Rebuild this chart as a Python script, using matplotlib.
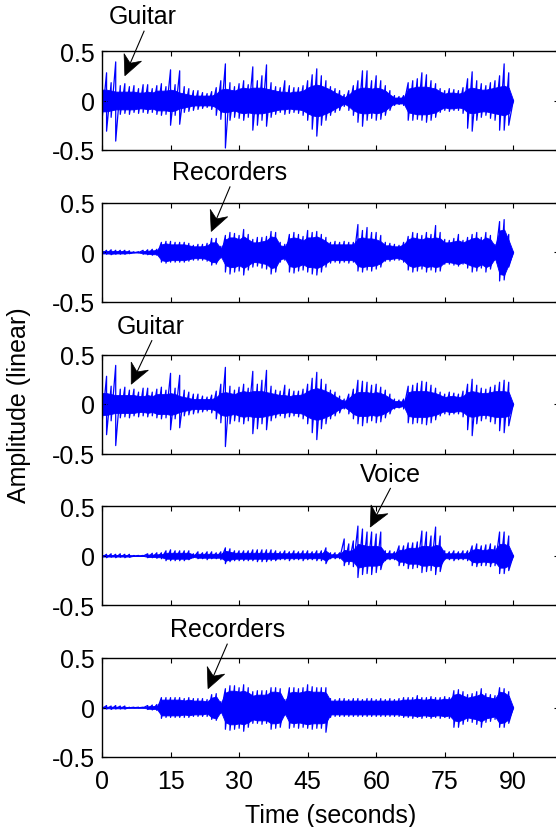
import matplotlib
matplotlib.use("Agg")
import matplotlib.pyplot as plt
from matplotlib.patches import Polygon
import numpy as np

plt.rcParams["font.family"] = ["Liberation Sans", "DejaVu Sans"]
plt.rcParams["axes.unicode_minus"] = False

# one sample per second, 0..90 s
seconds = np.arange(91)

# mixture: positive peak, negative peak (magnitude) and dense body per second
mix_up = [.2, .28, .18, .39, .15, .17, .14, .15, .12, .16,
          .16, .12, .15, .17, .14, .31, .16, .3, .14, .12,
          .1, .1, .08, .07, .09, .13, .2, .37, .18, .14,
          .17, .2, .16, .34, .2, .25, .36, .18, .14, .13,
          .2, .15, .13, .13, .15, .2, .26, .32, .25, .2,
          .14, .12, .1, .06, .1, .15, .2, .3, .3, .2,
          .25, .2, .15, .1, .05, .04, .05, .18, .2, .22,
          .28, .26, .2, .17, .12, .1, .12, .11, .1, .13,
          .22, .29, .2, .17, .15, .18, .2, .25, .37, .28,
          0]
mix_dn = [.2, .31, .17, .41, .14, .13, .14, .12, .13, .12,
          .13, .12, .14, .15, .14, .25, .15, .24, .12, .11,
          .1, .09, .08, .07, .09, .15, .19, .48, .2, .17,
          .18, .2, .17, .3, .25, .2, .26, .17, .14, .12,
          .14, .13, .12, .13, .15, .2, .29, .36, .25, .2,
          .15, .12, .1, .06, .1, .15, .22, .26, .2, .18,
          .2, .19, .15, .1, .05, .04, .05, .2, .2, .19,
          .2, .22, .2, .17, .12, .1, .11, .1, .1, .13,
          .28, .31, .2, .17, .15, .18, .2, .3, .3, .25,
          0]
mix_band = [.11, .11, .1, .09, .09, .09, .09, .09, .08, .08,
            .09, .08, .1, .1, .1, .11, .1, .08, .07, .06,
            .05, .05, .05, .05, .05, .07, .11, .12, .11, .1,
            .12, .13, .12, .13, .13, .13, .12, .11, .1, .09,
            .09, .08, .09, .09, .1, .13, .15, .16, .15, .13,
            .11, .08, .06, .03, .06, .1, .12, .13, .13, .12,
            .13, .12, .1, .06, .03, .03, .03, .12, .13, .14,
            .14, .14, .13, .12, .09, .07, .08, .08, .07, .08,
            .12, .13, .12, .11, .11, .12, .13, .14, .15, .13,
            0]

# recorders, first estimate
rec1_up = [.02, .02, .025, .02, .02, .02, .015, .005, .005, .02,
           .025, .03, .03, .1, .11, .11, .1, .1, .1, .09,
           .07, .08, .08, .09, .14, .14, .06, .17, .2, .19,
           .17, .23, .18, .13, .15, .15, .16, .21, .2, .1,
           .08, .18, .2, .18, .16, .22, .2, .21, .18, .15,
           .1, .11, .1, .11, .1, .1, .28, .22, .25, .2,
           .2, .17, .1, .09, .08, .07, .1, .16, .2, .19,
           .17, .2, .18, .27, .2, .13, .12, .14, .18, .12,
           .15, .18, .2, .15, .2, .17, .08, .31, .33, .18,
           0]
rec1_dn = [.02, .02, .025, .02, .02, .02, .015, .005, .005, .02,
           .025, .03, .03, .1, .11, .1, .1, .1, .1, .09,
           .08, .08, .08, .09, .13, .12, .06, .2, .22, .2,
           .19, .23, .18, .15, .14, .16, .17, .22, .2, .1,
           .08, .2, .21, .19, .18, .2, .22, .23, .2, .15,
           .11, .1, .11, .1, .11, .1, .19, .2, .18, .19,
           .17, .15, .09, .09, .08, .08, .1, .18, .2, .19,
           .17, .2, .18, .2, .19, .12, .12, .13, .14, .12,
           .16, .2, .19, .16, .2, .17, .08, .29, .28, .15,
           0]
rec1_band = [.012, .012, .015, .012, .012, .012, .008, .003, .003, .012,
             .015, .02, .02, .08, .09, .08, .08, .08, .08, .07,
             .06, .06, .06, .07, .1, .1, .04, .13, .15, .15,
             .13, .16, .13, .1, .1, .11, .12, .16, .15, .07,
             .06, .14, .15, .14, .12, .15, .15, .16, .14, .11,
             .08, .08, .08, .08, .08, .08, .14, .15, .14, .14,
             .13, .11, .07, .07, .06, .06, .08, .13, .15, .14,
             .13, .15, .14, .15, .14, .1, .1, .11, .12, .1,
             .12, .14, .15, .12, .15, .13, .06, .22, .23, .12,
             0]

# guitar estimate
gtr_up = [.2, .28, .18, .39, .15, .17, .14, .15, .12, .16,
          .16, .12, .15, .17, .14, .31, .16, .29, .14, .12,
          .1, .1, .08, .07, .09, .13, .2, .37, .18, .14,
          .17, .2, .16, .33, .2, .24, .34, .18, .14, .13,
          .19, .15, .13, .13, .15, .2, .26, .32, .25, .2,
          .14, .12, .08, .05, .1, .15, .24, .23, .22, .19,
          .2, .17, .14, .1, .05, .04, .05, .18, .19, .21,
          .23, .22, .19, .16, .12, .1, .12, .11, .1, .13,
          .2, .25, .19, .16, .15, .17, .19, .22, .24, .22,
          0]
gtr_dn = [.2, .31, .17, .42, .14, .13, .14, .12, .13, .12,
          .13, .12, .14, .15, .14, .26, .15, .24, .12, .11,
          .1, .09, .08, .07, .09, .15, .19, .43, .2, .17,
          .18, .2, .17, .3, .25, .2, .26, .17, .14, .12,
          .14, .13, .12, .13, .15, .2, .29, .36, .25, .2,
          .15, .12, .09, .05, .1, .15, .2, .22, .19, .17,
          .19, .18, .14, .1, .05, .04, .05, .19, .2, .19,
          .2, .21, .19, .16, .12, .1, .11, .1, .1, .13,
          .26, .32, .2, .17, .15, .18, .2, .27, .29, .22,
          0]
gtr_band = [.11, .11, .1, .09, .09, .09, .09, .09, .08, .08,
            .09, .08, .1, .1, .1, .11, .1, .08, .07, .06,
            .05, .05, .05, .05, .05, .07, .11, .12, .11, .1,
            .12, .13, .12, .13, .13, .13, .12, .11, .1, .09,
            .09, .08, .09, .09, .1, .13, .15, .16, .15, .13,
            .11, .08, .05, .03, .06, .1, .12, .12, .12, .11,
            .12, .11, .09, .06, .03, .03, .02, .12, .13, .13,
            .13, .13, .12, .11, .09, .07, .08, .08, .07, .08,
            .12, .13, .12, .11, .11, .12, .13, .13, .13, .12,
            0]

# voice estimate
voice_up = [.02, .015, .02, .015, .02, .015, .015, .003, .003, .003,
            .02, .025, .03, .03, .05, .06, .05, .05, .05, .05,
            .02, .04, .03, .04, .04, .03, .04, .08, .07, .05,
            .05, .05, .05, .06, .06, .06, .06, .06, .05, .04,
            .05, .04, .05, .04, .05, .05, .04, .05, .05, .08,
            .03, .03, .03, .17, .12, .15, .3, .27, .24, .24,
            .22, .24, .05, .05, .04, .1, .1, .13, .13, .14,
            .25, .24, .2, .29, .2, .05, .04, .05, .04, .05,
            .05, .1, .12, .1, .11, .12, .1, .24, .24, .2,
            0]
voice_dn = [.015, .02, .015, .02, .015, .02, .015, .003, .003, .003,
            .02, .02, .025, .03, .05, .05, .05, .05, .05, .04,
            .02, .03, .03, .04, .03, .03, .04, .08, .06, .05,
            .05, .05, .05, .05, .06, .06, .06, .05, .05, .04,
            .04, .05, .04, .04, .05, .04, .04, .05, .05, .08,
            .03, .03, .03, .1, .09, .11, .22, .19, .18, .19,
            .17, .14, .05, .04, .04, .1, .1, .13, .13, .12,
            .17, .16, .15, .19, .16, .04, .04, .05, .04, .04,
            .05, .1, .11, .1, .1, .11, .1, .18, .18, .15,
            0]
voice_band = [.008, .008, .008, .008, .008, .008, .008, .002, .002, .002,
              .012, .012, .015, .015, .03, .03, .03, .03, .03, .03,
              .012, .02, .02, .02, .02, .02, .02, .05, .04, .03,
              .03, .03, .03, .03, .03, .03, .03, .03, .03, .025,
              .025, .025, .025, .025, .025, .025, .025, .025, .025, .05,
              .015, .015, .015, .06, .05, .06, .12, .11, .1, .1,
              .1, .09, .03, .025, .025, .06, .06, .08, .08, .08,
              .1, .1, .09, .11, .1, .025, .025, .025, .025, .025,
              .025, .06, .07, .06, .06, .07, .06, .12, .12, .1,
              0]

# recorders, second estimate
rec2_up = [.015, .02, .015, .02, .015, .015, .003, .003, .003, .003,
           .02, .025, .03, .1, .1, .1, .1, .1, .09, .1,
           .09, .09, .09, .08, .13, .14, .06, .19, .22, .22,
           .2, .23, .2, .16, .17, .17, .17, .2, .2, .19,
           .08, .2, .2, .19, .2, .23, .21, .2, .2, .2,
           .09, .08, .09, .09, .08, .09, .09, .08, .09, .09,
           .08, .09, .08, .09, .08, .09, .1, .1, .1, .12,
           .1, .1, .11, .1, .1, .11, .1, .17, .18, .16,
           .13, .14, .16, .19, .14, .13, .12, .2, .19, .16,
           0]
rec2_dn = [.015, .015, .02, .015, .015, .015, .003, .003, .003, .003,
           .02, .025, .03, .11, .1, .1, .1, .1, .1, .1,
           .09, .09, .09, .09, .12, .13, .06, .22, .23, .22,
           .21, .24, .2, .16, .16, .17, .16, .22, .21, .2,
           .08, .21, .2, .21, .2, .21, .22, .21, .21, .25,
           .1, .09, .09, .09, .09, .09, .09, .09, .09, .09,
           .09, .09, .09, .09, .09, .09, .1, .1, .11, .1,
           .11, .1, .11, .1, .11, .1, .11, .2, .2, .17,
           .14, .15, .17, .2, .15, .14, .12, .2, .2, .16,
           0]
rec2_band = [.008, .008, .008, .008, .008, .008, .002, .002, .002, .002,
             .012, .015, .015, .08, .08, .08, .08, .08, .07, .08,
             .07, .07, .07, .06, .1, .11, .04, .15, .17, .17,
             .16, .17, .15, .12, .13, .13, .13, .16, .16, .15,
             .06, .15, .16, .15, .16, .17, .16, .16, .16, .15,
             .07, .07, .07, .07, .07, .07, .07, .07, .07, .07,
             .07, .07, .07, .07, .07, .07, .08, .08, .08, .09,
             .08, .08, .09, .08, .08, .09, .08, .13, .14, .12,
             .1, .11, .12, .14, .11, .1, .09, .16, .15, .12,
             0]

traces = [(mix_up, mix_dn, mix_band),
          (rec1_up, rec1_dn, rec1_band),
          (gtr_up, gtr_dn, gtr_band),
          (voice_up, voice_dn, voice_band),
          (rec2_up, rec2_dn, rec2_band)]

# label, text centre, arrow tail, arrow tip (data units of each panel)
notes = [("Guitar", (9.0, 0.85), (9.2, 0.70), (5.0, 0.25)),
         ("Recorders", (28.0, 0.81), (28.0, 0.66), (23.9, 0.21)),
         ("Guitar", (10.7, 0.79), (10.9, 0.64), (6.4, 0.2)),
         ("Voice", (63.1, 0.83), (63.1, 0.68), (58.7, 0.29)),
         ("Recorders", (27.4, 0.79), (27.4, 0.64), (23.2, 0.19))]

W, H = 556, 828
fig = plt.figure(figsize=(W / 100, H / 100), dpi=100)
left, width, height = 102 / W, 457 / W, 99 / H
tops = [52, 203.75, 355.5, 507.25, 659]


def arrow(ax, tail, tip, length=20, half=9.5, back=0.68):
  # thin shaft with a swept-back filled head, built in pixel space
  p0 = ax.transData.transform(tail)
  p1 = ax.transData.transform(tip)
  u = (p1 - p0) / np.hypot(*(p1 - p0))
  n = np.array([-u[1], u[0]])
  base = p1 - length * u
  notch = p1 - back * length * u
  head = np.array([p1, base + half * n, notch, base - half * n])
  shaft = np.array([p0, notch])
  ax.plot(shaft[:, 0] / W, shaft[:, 1] / H, color="black", lw=0.8,
          transform=fig.transFigure, clip_on=False)
  fig.add_artist(Polygon(head / [W, H], closed=True, facecolor="black",
                         edgecolor="black", lw=0.5, transform=fig.transFigure))


for i, ((up, dn, band), (label, xytext, tail, tip)) in enumerate(zip(traces, notes)):
  ax = fig.add_axes([left, 1 - (tops[i] + 99) / H, width, height])
  up = np.array(up)
  dn = np.array(dn)
  band = np.array(band)
  ax.fill_between(seconds, -band, band, color="#0000ff", lw=0.6)
  # trace alternates between the positive and negative peak of each second
  xs = np.repeat(seconds, 2)
  ys = np.column_stack([up, -dn]).ravel()
  ax.plot(xs, ys, color="#0000ff", lw=0.9)
  ax.set_xlim(0, 100)
  ax.set_ylim(-0.5, 0.5)
  ax.set_yticks([-0.5, 0, 0.5])
  ax.set_yticklabels(["-0.5", "0", "0.5"])
  ax.set_xticks(np.arange(0, 91, 15))
  ax.tick_params(direction="in", top=True, right=True, length=3.5, width=0.8,
                 labelsize=18, pad=5)
  for s in ax.spines.values():
    s.set_linewidth(1.0)
  if i < 4:
    ax.set_xticklabels([])
  else:
    ax.tick_params(axis="x", pad=9)
    ax.set_xlabel("Time (seconds)", fontsize=18, labelpad=7)
  ax.text(xytext[0], xytext[1], label, ha="center", va="center", fontsize=18,
          transform=ax.transData, clip_on=False)
  arrow(ax, tail, tip)

fig.text(19 / W, 1 - 405 / H, "Amplitude (linear)", rotation=90,
         ha="center", va="center", fontsize=18)

fig.savefig("out.png", dpi=100)
